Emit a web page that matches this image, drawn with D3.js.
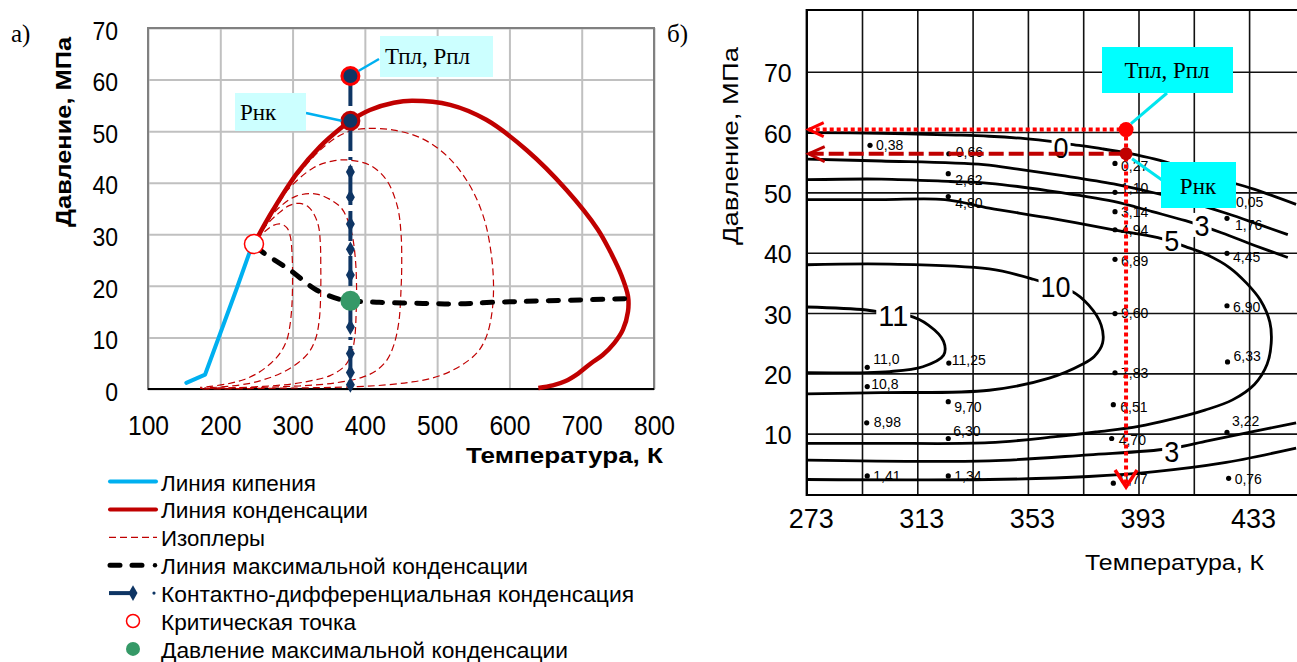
<!DOCTYPE html>
<html>
<head>
<meta charset="utf-8">
<script src="https://cdn.jsdelivr.net/npm/d3@7/dist/d3.min.js"></script>
<style>
  body { margin: 0; background: #fff; }
  svg { display: block; }
</style>
</head>
<body>
<script>
// ---------- panel а): phase diagram ----------
const tempTicksA = [100, 200, 300, 400, 500, 600, 700, 800];
const presTicksA = [0, 10, 20, 30, 40, 50, 60, 70];

const bubbleLine = [[153, 1.2], [179, 2.8], [200, 10.8], [222, 19.2], [240, 26.3], [246.6, 28.1]];
const dewLine = [[246.6, 28.1], [253, 29.8], [273, 34.7], [306, 41.8], [338, 47], [366, 50.5], [380, 52],
  [407, 54.1], [440, 55.5], [465, 55.9], [518, 55.1], [568, 52.2], [624, 46.3], [679, 38.6], [722, 31],
  [740, 26.5], [755, 22], [764, 18], [764, 15], [757, 11.5], [745, 8.9], [729, 6.6], [713, 5.0],
  [695, 3], [677, 1.5], [660, 0.7], [640, 0.2]];
const isoplethA = [[250, 29], [262, 31.5], [273, 34.1], [306, 41.3], [347, 47.4], [375, 49.8], [400, 50.5],
  [440, 50.2], [480, 48.5], [515, 45], [545, 39.5], [565, 33], [575, 26], [578, 20], [576, 15], [569, 10.5],
  [558, 7.5], [543, 5.5], [518, 3.4], [490, 2], [462, 1.3], [430, 0.8], [390, 0.45], [330, 0.25], [250, 0.1], [172, 0]];
const isoplethB = [[250, 29], [264, 32.1], [292, 38.4], [329, 42.9], [355, 44.2], [377, 44.4], [407, 43.4],
  [430, 40.5], [445, 35.4], [450, 30.2], [451, 24], [450, 19.2], [447, 13], [440, 8.5], [430, 5.5], [415, 3.5],
  [395, 2.2], [360, 1.2], [310, 0.6], [250, 0.3], [172, 0.1]];
const isoplethC = [[250, 29], [262, 32], [280, 35], [305, 37.4], [333, 37.8], [355, 36.5], [368, 35], [377, 32.5],
  [383, 29.5], [387, 25], [388.5, 20], [388, 15], [386, 10], [381, 6.6], [371, 4.3], [352, 2.6], [329, 1.7],
  [300, 1], [259, 0.5], [210, 0.2], [172, 0.1]];
const isoplethD = [[250, 29], [262, 31.5], [280, 34], [296, 35.6], [310, 36], [322, 35.3], [330, 33.8], [336, 31.5],
  [338.5, 28], [339, 24], [339, 19.2], [337, 13.5], [332, 9.8], [322, 7], [303, 4.6], [283, 3.0], [260, 1.8],
  [241, 1.1], [210, 0.5], [178, 0.2]];
const isoplethE = [[250, 29], [262, 30.6], [273, 31.7], [283, 32], [292, 31.3], [297, 29.5], [299.5, 25.5],
  [300, 21.5], [299, 16], [296, 12], [292, 9.5], [283, 7], [270, 5], [252, 3.1], [232, 1.8], [210, 1],
  [186, 0.5], [172, 0.3]];
const maxCondLine = [[250, 27.5], [260, 26.4], [296, 23.1], [333, 19.2], [365, 17.4], [380, 17.1], [420, 16.8],
  [480, 16.6], [527, 16.5], [575, 16.8], [650, 17.1], [760, 17.5]];

const contactT = 380;
const contactP = [42.1, 37.2, 32, 27.1, 22.1, 12, 6.9, 3.2, 0.8];
const reservoirPoint = [380, 60.7];   // Тпл, Рпл
const dewOnsetPoint = [380, 52];      // Рнк
const criticalPoint = [246.6, 28.1];
const maxCondPoint = [380, 17.1];

const legendLabels = [
  "Линия кипения",
  "Линия конденсации",
  "Изоплеры",
  "Линия максимальной конденсации",
  "Контактно-дифференциальная конденсация",
  "Критическая точка",
  "Давление максимальной конденсации"
];

// ---------- panel б): scanned contour chart ----------
const tempTicksB = [273, 313, 353, 393, 433];
const tempGridB = [273, 293, 313, 333, 353, 373, 393, 413, 433, 453];
const presTicksB = [10, 20, 30, 40, 50, 60, 70];

const contour0 = [[273, 59.9], [300, 59.8], [327, 59.5], [339, 59.3], [352, 58.9], [362, 58.4], [368, 58.0],
  [380, 57.2], [389, 56.5], [399, 55.5], [410, 54], [420, 52.5], [435, 50.5], [450, 48]];
const contour1 = [[273, 55.5], [300, 55.2], [337, 54.6], [350, 53.8], [365, 52.8], [384, 51.4], [397, 50.1],
  [410, 48.6], [425, 46.5], [437, 44.6], [447, 43]];
const contour3 = [[273, 52.1], [300, 52.2], [325, 51.8], [339, 51.5], [360, 50.3], [384, 48.5], [398, 46.8],
  [410, 45.3], [423, 43.3], [435, 41.2], [447, 39.2]];
const contour5 = [[273, 48.8], [300, 48.8], [323, 48.8], [339, 47.4], [360, 45.8], [384, 43.8], [400, 42.5],
  [410, 41], [418, 39.6], [426, 37.5], [432, 35], [437, 32.2], [440.5, 28.5], [441, 25], [439.5, 21.5],
  [435, 18.2], [427, 15.6], [417, 13.9], [405, 12.4], [393, 11.2], [378, 10.3], [363, 9.5], [339, 8.5],
  [300, 8.4], [273, 8.4]];
const contour10 = [[273, 38], [303, 38.1], [339, 37.3], [355, 35.6], [362, 34.5], [368.5, 33.7], [375, 31.3],
  [379.5, 28], [380, 25], [377, 22.8], [372.7, 21.5], [360.7, 19.2], [339, 17.2], [300, 16.8], [273, 16.6]];
const contour11 = [[273, 31], [294.6, 30.5], [304, 29.8], [309.6, 29.6], [317, 28], [322.5, 25.3], [322.5, 23],
  [315, 21.1], [303, 20.3], [273, 20.1]];
const contour3Low = [[273, 5.6], [339, 5.5], [375, 6.5], [404, 7.5], [418, 8.8], [433, 10.2], [450, 11.8]];
const contour0Low = [[273, 2.4], [339, 2.4], [375, 2.9], [399, 3.7], [423, 5.1], [450, 7.6]];
const contourLabels = [["0", 365, 57.6], ["3", 416, 44.6], ["5", 405, 42.1], ["10", 363, 34.5], ["11", 304.3, 29.7], ["3", 405, 7.2]];

const measurementsB = [
  [295.9, 57.8, "0,38"], [324.4, 56.4, "0,66"], [324.2, 53.1, "2,62"], [324.2, 49.3, "4,80"],
  [384.5, 54.8, "0,27"], [384.5, 50.0, "1,10"], [384.5, 46.8, "3,14"], [384.5, 43.8, "4,94"],
  [425, 48.6, "0,05"], [425, 45.7, "1,76"], [425, 39.9, "4,45"],
  [384.5, 38.9, "6,89"], [384.5, 29.9, "9,60"], [384.5, 20.1, "7,83"], [383.9, 14.8, "6,51"],
  [383.3, 9.2, "4,70"], [383.9, 1.8, "0,77"],
  [425, 31.2, "6,90"], [425.2, 21.9, "6,33"], [425, 10.2, "3,22"], [425.6, 2.6, "0,76"],
  [294.9, 21.0, "11,0"], [324.4, 21.7, "11,25"], [294.9, 17.8, "10,8"], [324.2, 15.3, "9,70"],
  [294.7, 11.8, "8,98"], [324.2, 9.2, "6,30"], [294.9, 3.0, "1,41"], [324.2, 3.0, "1,34"]
];
const reservoirB = [388.5, 60.4];   // Тпл, Рпл
const dewOnsetB = [388.5, 56.4];    // Рнк

// ---------- drawing ----------
const width = 1297, height = 662;
const sans = "'Liberation Sans', Arial, sans-serif";
const serif = "'Liberation Serif', 'Times New Roman', serif";
const svg = d3.select("body").append("svg")
  .attr("width", width).attr("height", height)
  .attr("viewBox", [0, 0, width, height])
  .style("font-family", sans);

const navy = "#0e3564", darkRed = "#c00000", skyBlue = "#00b0f0", green = "#359967";

function squeeze(sel, perChar) {
  sel.each(function () {
    const t = d3.select(this);
    t.attr("textLength", t.text().length * perChar).attr("lengthAdjust", "spacingAndGlyphs");
  });
}

// ===== panel а =====
const xA = d3.scaleLinear().domain([100, 800]).range([148, 654]);
const yA = d3.scaleLinear().domain([0, 70]).range([389, 28]);
const gA = svg.append("g");

gA.append("g").attr("transform", `translate(0,${yA(0)})`)
  .call(d3.axisBottom(xA).tickValues(tempTicksA).tickSize(-(yA(0) - yA(70))).tickFormat(""))
  .call(g => g.select(".domain").remove())
  .call(g => g.selectAll("line").attr("stroke", "#c0c0c0").attr("stroke-width", 2));
gA.append("g").attr("transform", `translate(${xA(100)},0)`)
  .call(d3.axisLeft(yA).tickValues(presTicksA).tickSize(-(xA(800) - xA(100))).tickFormat(""))
  .call(g => g.select(".domain").remove())
  .call(g => g.selectAll("line").attr("stroke", "#c0c0c0").attr("stroke-width", 2));
gA.append("rect").attr("x", xA(100)).attr("y", yA(70))
  .attr("width", xA(800) - xA(100)).attr("height", yA(0) - yA(70))
  .attr("fill", "none").attr("stroke", "#808080").attr("stroke-width", 2);
gA.append("line").attr("x1", xA(100)).attr("x2", xA(800)).attr("y1", yA(0)).attr("y2", yA(0))
  .attr("stroke", "#000").attr("stroke-width", 2);

// tick labels
gA.append("g").attr("transform", `translate(0,${yA(0)})`)
  .call(d3.axisBottom(xA).tickValues(tempTicksA).tickSize(0).tickPadding(27))
  .call(g => g.select(".domain").remove())
  .call(g => g.selectAll("text").attr("font-size", 27).attr("font-family", sans).attr("fill", "#000").call(squeeze, 13.7));
gA.append("g").attr("transform", `translate(${xA(100)},0)`)
  .call(d3.axisLeft(yA).tickValues(presTicksA).tickSize(0).tickPadding(30))
  .call(g => g.select(".domain").remove())
  .call(g => g.selectAll("text").attr("font-size", 26).attr("font-family", sans).attr("fill", "#000")
    .attr("dy", "0.43em").call(squeeze, 12.8));

gA.append("text").attr("x", 663).attr("y", 463).attr("text-anchor", "end")
  .attr("font-size", 22).attr("font-weight", "bold").attr("textLength", 197).attr("lengthAdjust", "spacingAndGlyphs")
  .text("Температура, К");
gA.append("text").attr("transform", "translate(71,132) rotate(-90)").attr("text-anchor", "middle")
  .attr("font-size", 22).attr("font-weight", "bold").attr("textLength", 190).attr("lengthAdjust", "spacingAndGlyphs")
  .text("Давление, МПа");
svg.append("text").attr("x", 11).attr("y", 42).attr("font-family", serif).attr("font-size", 25).text("а)");

const smooth = d3.line().x(d => xA(d[0])).y(d => yA(d[1])).curve(d3.curveCatmullRom.alpha(0.5));
const straight = d3.line().x(d => xA(d[0])).y(d => yA(d[1]));

gA.selectAll("path.iso").data([isoplethA, isoplethB, isoplethC, isoplethD, isoplethE]).join("path")
  .attr("class", "iso").attr("d", smooth).attr("fill", "none")
  .attr("stroke", darkRed).attr("stroke-width", 1.2).attr("stroke-dasharray", "7,4");
gA.append("path").attr("d", smooth(dewLine)).attr("fill", "none")
  .attr("stroke", darkRed).attr("stroke-width", 4.5).attr("stroke-linejoin", "round");
gA.append("path").attr("d", straight(bubbleLine)).attr("fill", "none")
  .attr("stroke", skyBlue).attr("stroke-width", 4).attr("stroke-linecap", "round").attr("stroke-linejoin", "round");
gA.append("path").attr("d", smooth(maxCondLine)).attr("fill", "none")
  .attr("stroke", "#000").attr("stroke-width", 5).attr("stroke-linecap", "round").attr("stroke-dasharray", "10,12");

gA.append("line").attr("x1", xA(contactT)).attr("x2", xA(contactT))
  .attr("y1", yA(reservoirPoint[1])).attr("y2", yA(contactP[contactP.length - 1]))
  .attr("stroke", navy).attr("stroke-width", 4).attr("stroke-dasharray", "30,6,3,6");
gA.selectAll("path.dia").data(contactP).join("path").attr("class", "dia")
  .attr("transform", d => `translate(${xA(contactT)},${yA(d)})`)
  .attr("d", d3.symbol(d3.symbolDiamond, 70)).attr("fill", navy);

gA.append("circle").attr("cx", xA(criticalPoint[0])).attr("cy", yA(criticalPoint[1])).attr("r", 9.5)
  .attr("fill", "#fff").attr("stroke", "#ff0000").attr("stroke-width", 1.5);
gA.append("circle").attr("cx", xA(maxCondPoint[0])).attr("cy", yA(maxCondPoint[1])).attr("r", 10)
  .attr("fill", green);
gA.append("circle").attr("cx", xA(reservoirPoint[0])).attr("cy", yA(reservoirPoint[1])).attr("r", 8.5)
  .attr("fill", navy).attr("stroke", "#ff0000").attr("stroke-width", 3);
gA.append("circle").attr("cx", xA(dewOnsetPoint[0])).attr("cy", yA(dewOnsetPoint[1])).attr("r", 8.5)
  .attr("fill", navy).attr("stroke", darkRed).attr("stroke-width", 3);

// callouts
gA.append("line").attr("x1", 306).attr("y1", 113).attr("x2", xA(dewOnsetPoint[0]) - 9).attr("y2", yA(dewOnsetPoint[1]))
  .attr("stroke", skyBlue).attr("stroke-width", 2.5);
gA.append("line").attr("x1", xA(reservoirPoint[0]) + 8).attr("y1", yA(reservoirPoint[1]) - 5).attr("x2", 379).attr("y2", 59)
  .attr("stroke", skyBlue).attr("stroke-width", 2.5);
gA.append("rect").attr("x", 235).attr("y", 93).attr("width", 71).attr("height", 38).attr("fill", "#ccffff");
gA.append("text").attr("x", 240).attr("y", 120).attr("font-family", serif).attr("font-size", 23).text("Рнк");
gA.append("rect").attr("x", 380).attr("y", 36).attr("width", 113).attr("height", 41).attr("fill", "#ccffff");
gA.append("text").attr("x", 385).attr("y", 64).attr("font-family", serif).attr("font-size", 23).text("Тпл, Рпл");

// legend
const legendWidths = [155, 207, 104, 367, 473, 195, 407];
const legend = svg.append("g");
legendLabels.forEach((label, i) => {
  const base = 490.5 + i * 27.9, cy = base - 9;
  legend.append("text").attr("x", 161).attr("y", base).attr("font-size", 22)
    .attr("textLength", legendWidths[i]).attr("lengthAdjust", "spacingAndGlyphs").text(label);
  if (i === 0 || i === 1) {
    legend.append("line").attr("x1", 110).attr("x2", 156).attr("y1", cy).attr("y2", cy)
      .attr("stroke", i === 0 ? skyBlue : darkRed).attr("stroke-width", 4).attr("stroke-linecap", "round");
  } else if (i === 2) {
    legend.append("line").attr("x1", 109).attr("x2", 157).attr("y1", cy).attr("y2", cy)
      .attr("stroke", darkRed).attr("stroke-width", 1.2).attr("stroke-dasharray", "7,4");
  } else if (i === 3) {
    legend.append("line").attr("x1", 110).attr("x2", 148).attr("y1", cy).attr("y2", cy)
      .attr("stroke", "#000").attr("stroke-width", 5).attr("stroke-linecap", "round").attr("stroke-dasharray", "10,12");
    legend.append("circle").attr("cx", 155).attr("cy", cy).attr("r", 2.2).attr("fill", "#000");
  } else if (i === 4) {
    legend.append("line").attr("x1", 109).attr("x2", 134).attr("y1", cy).attr("y2", cy)
      .attr("stroke", navy).attr("stroke-width", 4);
    legend.append("path").attr("transform", `translate(133,${cy})`).attr("d", d3.symbol(d3.symbolDiamond, 70)).attr("fill", navy);
    legend.append("circle").attr("cx", 154).attr("cy", cy).attr("r", 1.6).attr("fill", navy);
  } else if (i === 5) {
    legend.append("circle").attr("cx", 133).attr("cy", cy).attr("r", 6.5)
      .attr("fill", "#fff").attr("stroke", "#ff0000").attr("stroke-width", 1.5);
  } else {
    legend.append("circle").attr("cx", 133).attr("cy", cy).attr("r", 7).attr("fill", green);
  }
});

// ===== panel б =====
const xB = d3.scaleLinear().domain([273, 453]).range([806.7, 806.7 + 180 * 2.765]);
const yB = d3.scaleLinear().domain([0, 70]).range([494, 71.7]);
const gB = svg.append("g");
const topB = 10, bottomB = 495;

gB.append("g").attr("transform", `translate(0,${bottomB})`)
  .call(d3.axisBottom(xB).tickValues(tempGridB).tickSize(-(bottomB - topB)).tickFormat(""))
  .call(g => g.select(".domain").remove())
  .call(g => g.selectAll("line").attr("stroke", "#111").attr("stroke-width", 1.6));
gB.append("g").attr("transform", `translate(${xB(273)},0)`)
  .call(d3.axisLeft(yB).tickValues(presTicksB).tickSize(-(width - xB(273))).tickFormat(""))
  .call(g => g.select(".domain").remove())
  .call(g => g.selectAll("line").attr("stroke", "#111").attr("stroke-width", 1.6));
gB.append("path").attr("d", `M${width},${topB}H${xB(273)}V${bottomB}H${width}`)
  .attr("fill", "none").attr("stroke", "#000").attr("stroke-width", 2.2);

gB.append("g").attr("transform", `translate(0,${yB(0)})`)
  .call(d3.axisBottom(xB).tickValues(tempTicksB).tickSize(0).tickPadding(15))
  .call(g => g.select(".domain").remove())
  .call(g => g.selectAll("text").attr("font-size", 27).attr("font-family", sans).attr("fill", "#000").attr("x", 4));
gB.append("g").attr("transform", `translate(${xB(273)},0)`)
  .call(d3.axisLeft(yB).tickValues(presTicksB).tickSize(0).tickPadding(15))
  .call(g => g.select(".domain").remove())
  .call(g => g.selectAll("text").attr("font-size", 25).attr("font-family", sans).attr("fill", "#000").attr("dy", "0.4em"));

gB.append("text").attr("x", 1085).attr("y", 570).attr("font-size", 22)
  .attr("textLength", 179).attr("lengthAdjust", "spacingAndGlyphs").text("Температура, К");
gB.append("text").attr("transform", "translate(738,146) rotate(-90)").attr("text-anchor", "middle")
  .attr("font-size", 22).attr("textLength", 198).attr("lengthAdjust", "spacingAndGlyphs").text("Давление, МПа");
svg.append("text").attr("x", 667).attr("y", 42).attr("font-family", serif).attr("font-size", 25).text("б)");

const smoothB = d3.line().x(d => xB(d[0])).y(d => yB(d[1])).curve(d3.curveCatmullRom.alpha(0.5));
gB.selectAll("path.contour")
  .data([contour0, contour1, contour3, contour5, contour10, contour11, contour3Low, contour0Low])
  .join("path").attr("class", "contour").attr("d", smoothB)
  .attr("fill", "none").attr("stroke", "#000").attr("stroke-width", 2.8);

const labelNudge = {
  "0,66": [7, 3], "2,62": [7, 11], "4,80": [7, 11], "0,27": [6, 8], "1,10": [6, 1], "0,05": [9, 6],
  "1,76": [8, 12], "4,45": [6, 9], "6,89": [6, 7], "9,60": [6, 4], "6,51": [7, 7], "4,70": [7, 7],
  "0,77": [7, 1], "6,90": [6, 6], "6,33": [6, -1], "3,22": [5, -6], "0,76": [6, 6], "11,0": [6, -3],
  "11,25": [3, 2], "10,8": [4, 2], "9,70": [6, 10], "6,30": [5, -2], "8,98": [7, 4]
};
measurementsB.forEach(([t, p, label]) => {
  const [dx, dy] = labelNudge[label] || [6, 5];
  gB.append("circle").attr("cx", xB(t)).attr("cy", yB(p)).attr("r", 2.6).attr("fill", "#000");
  gB.append("text").attr("x", xB(t) + dx).attr("y", yB(p) + dy).attr("font-size", 14).text(label);
});

contourLabels.forEach(([txt, t, p]) => {
  const w = txt.length * 15;
  gB.append("rect").attr("x", xB(t) - w / 2 - 2).attr("y", yB(p) - 12).attr("width", w + 4).attr("height", 24).attr("fill", "#fff");
  gB.append("text").attr("x", xB(t)).attr("y", yB(p) + 11).attr("text-anchor", "middle")
    .attr("font-size", 30).attr("textLength", w).attr("lengthAdjust", "spacingAndGlyphs").text(txt);
});

// red guides
const xr = xB(reservoirB[0]);
gB.append("line").attr("x1", xB(273) + 2).attr("x2", xr).attr("y1", yB(reservoirB[1])).attr("y2", yB(reservoirB[1]))
  .attr("stroke", "#ff0000").attr("stroke-width", 4).attr("stroke-dasharray", "4,3");
gB.append("path").attr("d", `M${xB(273) + 17},${yB(reservoirB[1]) - 7}L${xB(273) + 2},${yB(reservoirB[1])}L${xB(273) + 17},${yB(reservoirB[1]) + 7}`)
  .attr("fill", "none").attr("stroke", "#ff0000").attr("stroke-width", 3);
gB.append("line").attr("x1", xB(273) + 2).attr("x2", xr).attr("y1", yB(dewOnsetB[1])).attr("y2", yB(dewOnsetB[1]))
  .attr("stroke", darkRed).attr("stroke-width", 4).attr("stroke-dasharray", "15,5");
gB.append("path").attr("d", `M${xB(273) + 18},${yB(dewOnsetB[1]) - 7}L${xB(273) + 2},${yB(dewOnsetB[1])}L${xB(273) + 18},${yB(dewOnsetB[1]) + 8}`)
  .attr("fill", "none").attr("stroke", darkRed).attr("stroke-width", 3);
gB.append("line").attr("x1", xr).attr("x2", xr).attr("y1", yB(reservoirB[1])).attr("y2", 486)
  .attr("stroke", "#ff0000").attr("stroke-width", 4).attr("stroke-dasharray", "4,3");
gB.append("path").attr("d", `M${xr - 11},470L${xr},487L${xr + 11},470`)
  .attr("fill", "none").attr("stroke", "#ff0000").attr("stroke-width", 3.5);
gB.append("circle").attr("cx", xr).attr("cy", yB(reservoirB[1])).attr("r", 7.5).attr("fill", "#ff0000");
gB.append("circle").attr("cx", xr).attr("cy", yB(dewOnsetB[1])).attr("r", 6.5).attr("fill", darkRed);

// cyan callouts
gB.append("line").attr("x1", xr + 5).attr("y1", yB(reservoirB[1]) - 6).attr("x2", 1167).attr("y2", 93)
  .attr("stroke", "#00e5ee").attr("stroke-width", 3);
gB.append("line").attr("x1", xr + 6).attr("y1", yB(dewOnsetB[1]) + 5).attr("x2", 1162).attr("y2", 180)
  .attr("stroke", "#00e5ee").attr("stroke-width", 3);
gB.append("rect").attr("x", 1102).attr("y", 47).attr("width", 131).attr("height", 46).attr("fill", "#00ffff");
gB.append("text").attr("x", 1167).attr("y", 78).attr("text-anchor", "middle").attr("font-family", serif).attr("font-size", 23).text("Тпл, Рпл");
gB.append("rect").attr("x", 1161).attr("y", 162).attr("width", 75).attr("height", 46).attr("fill", "#00ffff");
gB.append("text").attr("x", 1198).attr("y", 194).attr("text-anchor", "middle").attr("font-family", serif).attr("font-size", 23).text("Рнк");
</script>
</body>
</html>
